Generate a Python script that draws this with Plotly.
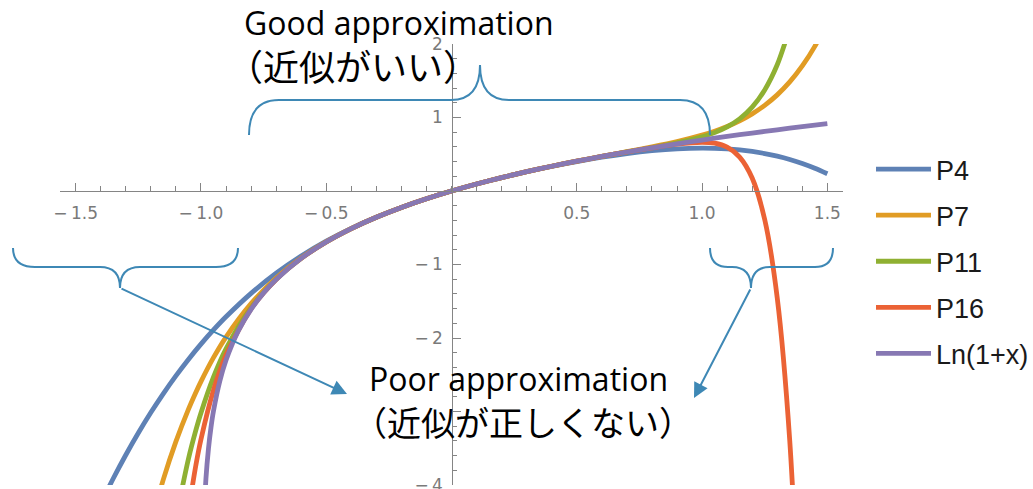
import plotly.graph_objects as go

# ---- series values: Taylor polynomials of ln(1+x) and the function itself ----
p4_x = [-1.4, -1.35, -1.3, -1.25, -1.2, -1.15, -1.1, -1.05, -1.0, -0.95, -0.9, -0.8, -0.7,
        -0.6, -0.5, -0.4, -0.3, -0.2, -0.1, 0.0, 0.1, 0.2, 0.3, 0.4, 0.5, 0.6, 0.7, 0.8,
        0.9, 1.0, 1.05, 1.1, 1.15, 1.2, 1.25, 1.3, 1.35, 1.4, 1.45, 1.5]
p4_y = [-4.2551, -3.9118, -3.5914, -3.2926, -3.0144, -2.7555, -2.5147, -2.2910, -2.0833,
        -1.8907, -1.7120, -1.3931, -1.1194, -0.8844, -0.6823, -0.5077, -0.3560, -0.2231,
        -0.1054, 0.0, 0.0953, 0.1823, 0.2620, 0.3349, 0.4010, 0.4596, 0.5093, 0.5483,
        0.5740, 0.5833, 0.5807, 0.5726, 0.5585, 0.5376, 0.5094, 0.4733, 0.4285, 0.3743,
        0.3098, 0.2344]

p7_x = [-1.2, -1.15, -1.1, -1.05, -1.02, -1.0, -0.95, -0.9, -0.8, -0.7, -0.6, -0.5, -0.4,
        -0.3, -0.2, -0.1, 0.0, 0.1, 0.2, 0.3, 0.4, 0.5, 0.6, 0.7, 0.8, 0.9, 1.0, 1.05,
        1.1, 1.15, 1.2, 1.25, 1.3, 1.35, 1.4, 1.45, 1.5]
p7_y = [-4.5216, -3.9232, -3.4104, -2.9706, -2.7372, -2.5929, -2.2677, -1.9870, -1.5323,
        -1.1843, -0.9117, -0.6923, -0.5107, -0.3567, -0.2231, -0.1054, 0.0, 0.0953, 0.1823,
        0.2624, 0.3365, 0.4058, 0.4714, 0.5351, 0.6001, 0.6718, 0.7595, 0.8137, 0.8779,
        0.9552, 1.0495, 1.1652, 1.3078, 1.4838, 1.7009, 1.9680, 2.2955]

p11_x = [-1.1, -1.05, -1.02, -1.0, -0.95, -0.9, -0.8, -0.7, -0.6, -0.5, -0.4, -0.3, -0.2,
         -0.1, 0.0, 0.1, 0.2, 0.3, 0.4, 0.5, 0.6, 0.7, 0.8, 0.9, 1.0, 1.05, 1.1, 1.15,
         1.2, 1.25, 1.3, 1.35]
p11_y = [-4.4591, -3.6460, -3.2513, -3.0199, -2.5322, -2.1473, -1.5867, -1.2007, -0.9159,
         -0.6931, -0.5108, -0.3567, -0.2231, -0.1054, 0.0, 0.0953, 0.1823, 0.2624, 0.3365,
         0.4055, 0.4701, 0.5313, 0.5911, 0.6547, 0.7365, 0.7940, 0.8719, 0.9821, 1.1416,
         1.3750, 1.7171, 2.2166]

p16_x = [-1.05, -1.02, -1.0, -0.95, -0.9, -0.8, -0.7, -0.6, -0.5, -0.4, -0.3, -0.2, -0.1,
         0.0, 0.1, 0.2, 0.3, 0.4, 0.5, 0.6, 0.7, 0.8, 0.9, 1.0, 1.05, 1.1, 1.15, 1.2,
         1.25, 1.3, 1.35, 1.4]
p16_y = [-4.3572, -3.7263, -3.3807, -2.7100, -2.2320, -1.6039, -1.2036, -0.9163, -0.6931,
         -0.5108, -0.3567, -0.2231, -0.1054, 0.0, 0.0953, 0.1823, 0.2624, 0.3365, 0.4055,
         0.4700, 0.5305, 0.5870, 0.6365, 0.6629, 0.6501, 0.5960, 0.4618, 0.1761, -0.3882,
         -1.4535, -3.3985, -6.8564]

ln_x = [-0.99, -0.98, -0.97, -0.96, -0.95, -0.925, -0.9, -0.85, -0.8, -0.75, -0.7, -0.6,
        -0.5, -0.4, -0.3, -0.2, -0.1, 0.0, 0.1, 0.2, 0.3, 0.4, 0.5, 0.6, 0.7, 0.8, 0.9,
        1.0, 1.1, 1.2, 1.3, 1.4, 1.5]
ln_y = [-4.6052, -3.9120, -3.5066, -3.2189, -2.9957, -2.5903, -2.3026, -1.8971, -1.6094,
        -1.3863, -1.2040, -0.9163, -0.6931, -0.5108, -0.3567, -0.2231, -0.1054, 0.0, 0.0953,
        0.1823, 0.2624, 0.3365, 0.4055, 0.4700, 0.5306, 0.5878, 0.6419, 0.6931, 0.7419,
        0.7885, 0.8329, 0.8755, 0.9163]

names = ["P4", "P7", "P11", "P16", "Ln(1+x)"]
colors = ["#5E81B5", "#E19C24", "#8FB032", "#EB6235", "#8778B3"]

x_tickvals = [-1.5, -1.0, -0.5, 0.5, 1.0, 1.5]
x_ticktext = ["\u2212\u20091.5", "\u2212\u20091.0", "\u2212\u20090.5", "0.5", "1.0", "1.5"]
y_tickvals = [-4, -3, -2, -1, 1, 2]
y_ticktext = ["\u2212\u20094", "", "\u2212\u20092", "\u2212\u20091", "1", "2"]

# ---- figure geometry ----
W, H = 1033, 489
M = dict(l=60, r=190, t=44, b=4, autoexpand=False)
X_RANGE = [-1.5625, 1.5625]
Y_RANGE = [-4, 2]


def fx(px):
    """screen x pixel -> paper fraction"""
    return (px - M["l"]) / (W - M["l"] - M["r"])


def fy(py):
    """screen y pixel -> paper fraction"""
    return (H - M["b"] - py) / (H - M["t"] - M["b"])


fig = go.Figure()
for xs, ys, name, col in zip([p4_x, p7_x, p11_x, p16_x, ln_x],
                             [p4_y, p7_y, p11_y, p16_y, ln_y], names, colors):
    fig.add_trace(go.Scatter(x=xs, y=ys, mode="lines", name=name, legendgroup=name,
                             line=dict(color=col, width=4.8, shape="spline", smoothing=0.8)))

AX = "#858585"
TICKFONT = dict(family="DejaVu Sans", size=17, color="#7a7a7a")

fig.update_layout(
    width=W, height=H, margin=M,
    paper_bgcolor="white", plot_bgcolor="white",
    showlegend=True,
    legend=dict(x=fx(871), y=fy(145), xanchor="left", yanchor="top",
                font=dict(family="Liberation Sans", size=27, color="#1a1a1a"),
                itemwidth=55, bgcolor="rgba(0,0,0,0)", tracegroupgap=8),
    xaxis=dict(range=X_RANGE, anchor="free", position=(0 - Y_RANGE[0]) / (Y_RANGE[1] - Y_RANGE[0]),
               showline=True, linecolor=AX, linewidth=1.3, showgrid=False, zeroline=False,
               tickmode="array", tickvals=x_tickvals, ticktext=x_ticktext,
               ticks="inside", ticklen=8, tickwidth=1.2, tickcolor=AX, automargin=False,
               minor=dict(dtick=0.1, tick0=0, ticks="inside", ticklen=4.5, tickwidth=1, tickcolor=AX),
               tickfont=TICKFONT, ticklabelstandoff=6),
    yaxis=dict(range=Y_RANGE, anchor="free", position=0.5,
               showline=True, linecolor=AX, linewidth=1.3, showgrid=False, zeroline=False,
               tickmode="array", tickvals=y_tickvals, ticktext=y_ticktext,
               ticks="inside", ticklen=8, tickwidth=1.2, tickcolor=AX, automargin=False,
               minor=dict(dtick=0.2, tick0=0, ticks="inside", ticklen=4.5, tickwidth=1, tickcolor=AX),
               tickfont=TICKFONT, ticklabelstandoff=5, ticklabeloverflow="allow"),
)

# ---- curly braces (screen pixels) ----
BLUE = "#3E88B5"


def brace(x0, x1, xt, ybar, yend, ytip, r, rt):
    pts = [
        f"M{fx(x0)},{fy(yend)}",
        f"Q{fx(x0)},{fy(ybar)} {fx(x0 + r)},{fy(ybar)}",
        f"L{fx(xt - rt)},{fy(ybar)}",
        f"Q{fx(xt)},{fy(ybar)} {fx(xt)},{fy(ytip)}",
        f"Q{fx(xt)},{fy(ybar)} {fx(xt + rt)},{fy(ybar)}",
        f"L{fx(x1 - r)},{fy(ybar)}",
        f"Q{fx(x1)},{fy(ybar)} {fx(x1)},{fy(yend)}",
    ]
    return dict(type="path", xref="paper", yref="paper", path=" ".join(pts),
                line=dict(color=BLUE, width=2), layer="above")


fig.add_shape(brace(249, 710, 480, 100, 135, 65, 30, 29))
fig.add_shape(brace(13, 238, 120, 267, 248, 288, 22, 20))
fig.add_shape(brace(710, 833, 751, 267, 248, 288, 18, 19))

# ---- arrows from the lower braces ----
for (tx, ty), (hx, hy) in [((120, 288), (347, 394)), ((751, 288), (694, 398))]:
    fig.add_annotation(xref="paper", yref="paper", x=fx(hx), y=fy(hy),
                       axref="pixel", ayref="pixel", ax=tx - hx, ay=ty - hy,
                       text="", showarrow=True, arrowhead=2, arrowsize=1.5,
                       arrowwidth=2, arrowcolor=BLUE, standoff=0)

# ---- text labels ----
LAT = "Open Sans, Noto Sans CJK JP"
CJK = "Noto Sans CJK JP"
texts = [
    ("Good approximation", 242, 23, LAT, 32),
    ("（近似がいい）", 225, 65, CJK, 36),
    ("Poor approximation", 367, 378, LAT, 32),
    ("（近似が正しくない）", 351, 421, CJK, 34),
]
for t, px, py, fam, sz in texts:
    fig.add_annotation(xref="paper", yref="paper", x=fx(px), y=fy(py),
                       xanchor="left", yanchor="middle", showarrow=False, text=t,
                       font=dict(family=fam, size=sz, color="black"))

fig.write_html("out.html")
